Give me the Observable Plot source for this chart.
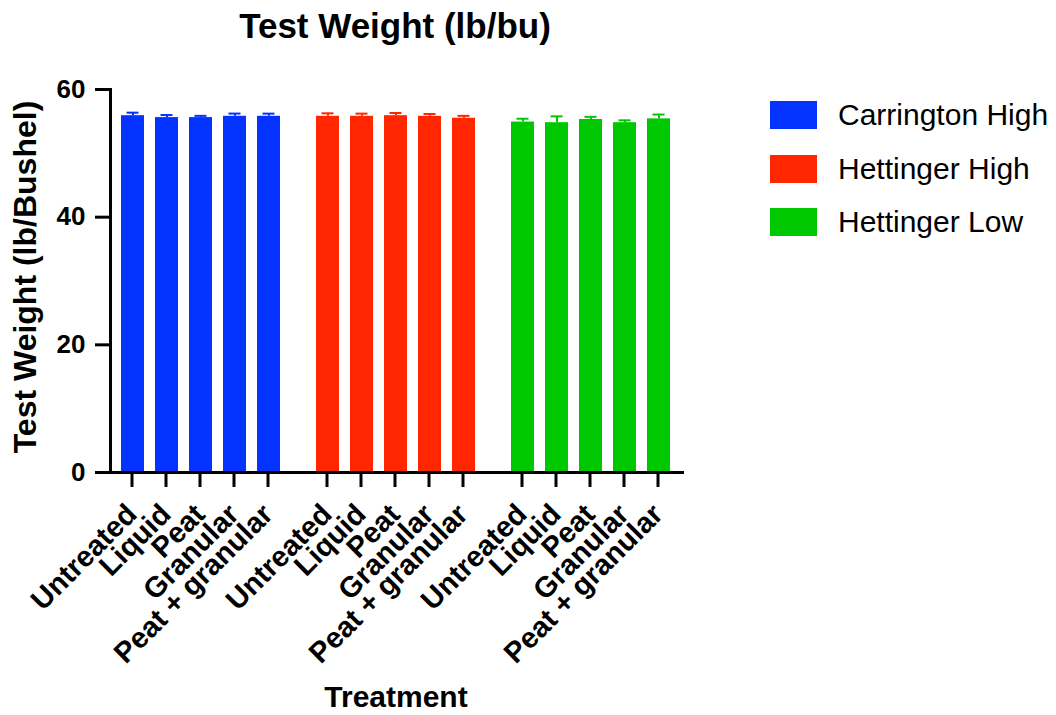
<!DOCTYPE html>
<html>
<head>
<meta charset="utf-8">
<script src="https://cdn.jsdelivr.net/npm/d3@7"></script>
<script src="https://cdn.jsdelivr.net/npm/@observablehq/plot@0.6"></script>
<style>
  html, body { margin: 0; padding: 0; background: #fff; }
  body { width: 1056px; height: 715px; position: relative; overflow: hidden;
         font-family: "Liberation Sans", Arial, Helvetica, sans-serif; color: #000; }
  #chart { position: absolute; left: 0; top: 0; }
  .title { position: absolute; left: 395px; top: 8px; transform: translateX(-50%);
           font-size: 35px; font-weight: bold; line-height: 35px; white-space: nowrap; }
  .xlabel { position: absolute; left: 396px; top: 682px; transform: translateX(-50%);
            font-size: 30px; font-weight: bold; line-height: 30px; white-space: nowrap; }
  .ylabel { position: absolute; left: 25px; top: 277px; transform: translate(-50%, -50%) rotate(-90deg);
            font-size: 32px; font-weight: bold; line-height: 32px; white-space: nowrap; }
  .legend { position: absolute; left: 770px; top: 101px; }
  .legend .row { display: flex; align-items: center; height: 28px; margin-bottom: 25.7px; }
  .legend .sw { width: 47px; height: 28px; margin-right: 21px; }
  .legend .lab { font-size: 30px; line-height: 30px; white-space: nowrap; }
</style>
</head>
<body>
<div id="chart"></div>
<div class="title">Test Weight (lb/bu)</div>
<div class="ylabel">Test Weight (lb/Bushel)</div>
<div class="xlabel">Treatment</div>
<div class="legend" id="legend"></div>
<script>
const groups = ["Carrington High", "Hettinger High", "Hettinger Low"];
const treatments = ["Untreated", "Liquid", "Peat", "Granular", "Peat + granular"];
const colors = ["#0433FF", "#FF2600", "#00C800"];

const carringtonHighMean = [55.9, 55.6, 55.6, 55.8, 55.8];
const carringtonHighErr  = [0.47, 0.40, 0.27, 0.43, 0.42];
const hettingerHighMean  = [55.8, 55.8, 55.9, 55.8, 55.5];
const hettingerHighErr   = [0.47, 0.42, 0.42, 0.36, 0.37];
const hettingerLowMean   = [54.9, 54.8, 55.3, 54.8, 55.4];
const hettingerLowErr    = [0.52, 0.99, 0.42, 0.37, 0.68];

const yTicks = [0, 20, 40, 60];

const means = [carringtonHighMean, hettingerHighMean, hettingerLowMean];
const errs = [carringtonHighErr, hettingerHighErr, hettingerLowErr];
const data = groups.flatMap((g, gi) => treatments.map((t, ti) => ({
  group: g, treatment: t, mean: means[gi][ti], top: means[gi][ti] + errs[gi][ti]
})));

const font = "Liberation Sans, Arial, Helvetica, sans-serif";

const chart = Plot.plot({
  width: 720,
  height: 715,
  marginLeft: 109,
  marginRight: 36,
  marginTop: 89,
  marginBottom: 243,
  style: { fontFamily: font, color: "#000", background: "transparent" },
  fx: { domain: groups, paddingInner: 0.0663, paddingOuter: 0, axis: null, label: null },
  x: { domain: treatments, paddingInner: 0.31, paddingOuter: 0.3, label: null },
  y: { domain: [0, 60], label: null },
  color: { domain: groups, range: colors },
  marks: [
    Plot.barY(data, { fx: "group", x: "treatment", y: "mean", fill: "group" }),
    Plot.ruleX(data, { fx: "group", x: "treatment", y1: "mean", y2: "top", stroke: "group", strokeWidth: 2 }),
    Plot.tickY(data, { fx: "group", x: "treatment", y: "top", stroke: "group", strokeWidth: 2, insetLeft: 5.5, insetRight: 5.5 }),
    Plot.axisY({ ticks: yTicks, tickSize: 15, tickPadding: 10, fontSize: 26, fontWeight: "bold", strokeWidth: 3, label: null }),
    Plot.axisX({ tickSize: 15, tickPadding: 22, dx: -1, strokeWidth: 3, tickRotate: -45, fontSize: 29, fontWeight: "bold", label: null }),
    Plot.frame({ anchor: "left", facet: "super", strokeWidth: 3 }),
    Plot.frame({ anchor: "bottom", facet: "super", strokeWidth: 3 })
  ]
});
document.getElementById("chart").appendChild(chart);

const legend = document.getElementById("legend");
groups.forEach((g, i) => {
  const row = document.createElement("div");
  row.className = "row";
  const sw = document.createElement("div");
  sw.className = "sw";
  sw.style.background = colors[i];
  const lab = document.createElement("div");
  lab.className = "lab";
  lab.textContent = g;
  row.appendChild(sw);
  row.appendChild(lab);
  legend.appendChild(row);
});
</script>
</body>
</html>
